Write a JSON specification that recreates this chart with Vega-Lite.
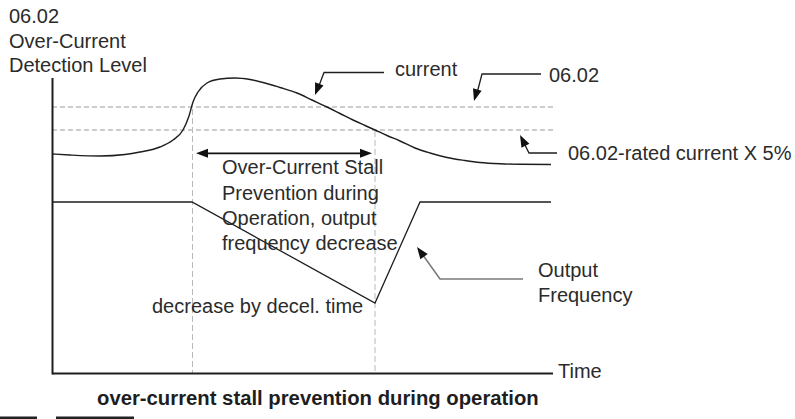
{
  "$schema": "https://vega.github.io/schema/vega-lite/v6.json",
  "width": 795,
  "height": 419,
  "autosize": {"type": "none"},
  "padding": 0,
  "background": "white",
  "config": {"view": {"stroke": null}},
  "datasets": {
    "lines": [
      {"kind": "hguide", "id": "h1", "i": 0, "x": 52, "y": 107},
      {"kind": "hguide", "id": "h1", "i": 1, "x": 553, "y": 107},
      {"kind": "hguide", "id": "h2", "i": 0, "x": 52, "y": 130},
      {"kind": "hguide", "id": "h2", "i": 1, "x": 553, "y": 130},
      {"kind": "vguide", "id": "v1", "i": 0, "x": 192.5, "y": 109},
      {"kind": "vguide", "id": "v1", "i": 1, "x": 192.5, "y": 373},
      {"kind": "vguide", "id": "v2", "i": 0, "x": 375, "y": 131},
      {"kind": "vguide", "id": "v2", "i": 1, "x": 375, "y": 373},
      {"kind": "axis", "id": "ay", "i": 0, "x": 52.5, "y": 78},
      {"kind": "axis", "id": "ay", "i": 1, "x": 52.5, "y": 374.5},
      {"kind": "axis", "id": "ax", "i": 0, "x": 52.5, "y": 373.5},
      {"kind": "axis", "id": "ax", "i": 1, "x": 553, "y": 373.5},
      {"kind": "curve", "id": "c", "i": 0, "x": 52.5, "y": 154},
      {"kind": "curve", "id": "c", "i": 1, "x": 70, "y": 155},
      {"kind": "curve", "id": "c", "i": 2, "x": 100, "y": 156},
      {"kind": "curve", "id": "c", "i": 3, "x": 125, "y": 154.5},
      {"kind": "curve", "id": "c", "i": 4, "x": 140, "y": 152},
      {"kind": "curve", "id": "c", "i": 5, "x": 160, "y": 147},
      {"kind": "curve", "id": "c", "i": 6, "x": 173, "y": 140},
      {"kind": "curve", "id": "c", "i": 7, "x": 183, "y": 130},
      {"kind": "curve", "id": "c", "i": 8, "x": 189, "y": 116},
      {"kind": "curve", "id": "c", "i": 9, "x": 193, "y": 102},
      {"kind": "curve", "id": "c", "i": 10, "x": 198, "y": 92},
      {"kind": "curve", "id": "c", "i": 11, "x": 207, "y": 83},
      {"kind": "curve", "id": "c", "i": 12, "x": 220, "y": 79},
      {"kind": "curve", "id": "c", "i": 13, "x": 235, "y": 78},
      {"kind": "curve", "id": "c", "i": 14, "x": 250, "y": 79.5},
      {"kind": "curve", "id": "c", "i": 15, "x": 265, "y": 83},
      {"kind": "curve", "id": "c", "i": 16, "x": 280, "y": 87.5},
      {"kind": "curve", "id": "c", "i": 17, "x": 297, "y": 93},
      {"kind": "curve", "id": "c", "i": 18, "x": 312, "y": 100},
      {"kind": "curve", "id": "c", "i": 19, "x": 327, "y": 107},
      {"kind": "curve", "id": "c", "i": 20, "x": 340, "y": 113.5},
      {"kind": "curve", "id": "c", "i": 21, "x": 353, "y": 120},
      {"kind": "curve", "id": "c", "i": 22, "x": 365, "y": 125.5},
      {"kind": "curve", "id": "c", "i": 23, "x": 375, "y": 130},
      {"kind": "curve", "id": "c", "i": 24, "x": 387, "y": 135.5},
      {"kind": "curve", "id": "c", "i": 25, "x": 400, "y": 141},
      {"kind": "curve", "id": "c", "i": 26, "x": 415, "y": 148},
      {"kind": "curve", "id": "c", "i": 27, "x": 430, "y": 153},
      {"kind": "curve", "id": "c", "i": 28, "x": 447, "y": 157.5},
      {"kind": "curve", "id": "c", "i": 29, "x": 465, "y": 160.5},
      {"kind": "curve", "id": "c", "i": 30, "x": 480, "y": 162.5},
      {"kind": "curve", "id": "c", "i": 31, "x": 500, "y": 163.8},
      {"kind": "curve", "id": "c", "i": 32, "x": 520, "y": 164.3},
      {"kind": "curve", "id": "c", "i": 33, "x": 551, "y": 164.5},
      {"kind": "freq", "id": "f", "i": 0, "x": 52.5, "y": 202},
      {"kind": "freq", "id": "f", "i": 1, "x": 192, "y": 202},
      {"kind": "freq", "id": "f", "i": 2, "x": 375, "y": 303},
      {"kind": "freq", "id": "f", "i": 3, "x": 420, "y": 202},
      {"kind": "freq", "id": "f", "i": 4, "x": 551, "y": 202},
      {"kind": "pointer", "id": "p1", "i": 0, "x": 384, "y": 72.5},
      {"kind": "pointer", "id": "p1", "i": 1, "x": 324, "y": 72.5},
      {"kind": "pointer", "id": "p1", "i": 2, "x": 317, "y": 91},
      {"kind": "pointer", "id": "p2", "i": 0, "x": 541, "y": 74},
      {"kind": "pointer", "id": "p2", "i": 1, "x": 482, "y": 74},
      {"kind": "pointer", "id": "p2", "i": 2, "x": 476, "y": 97},
      {"kind": "pointer", "id": "p3", "i": 0, "x": 557, "y": 153},
      {"kind": "pointer", "id": "p3", "i": 1, "x": 529, "y": 153},
      {"kind": "pointer", "id": "p3", "i": 2, "x": 522, "y": 139},
      {"kind": "pointergray", "id": "p4", "i": 0, "x": 523, "y": 279},
      {"kind": "pointergray", "id": "p4", "i": 1, "x": 440, "y": 279},
      {"kind": "pointergray", "id": "p4", "i": 2, "x": 420, "y": 251},
      {"kind": "span", "id": "s", "i": 0, "x": 200, "y": 153.3},
      {"kind": "span", "id": "s", "i": 1, "x": 368, "y": 153.3},
      {"kind": "scrap", "id": "b1", "i": 0, "x": 0, "y": 418},
      {"kind": "scrap", "id": "b1", "i": 1, "x": 37, "y": 418},
      {"kind": "scrap", "id": "b2", "i": 0, "x": 56, "y": 418},
      {"kind": "scrap", "id": "b2", "i": 1, "x": 134, "y": 418}
    ],
    "heads": [
      {"id": "current", "x": 315, "y": 95, "dir": 201},
      {"id": "level", "x": 474, "y": 101, "dir": 196},
      {"id": "rated", "x": 520, "y": 135, "dir": 333},
      {"id": "output", "x": 417, "y": 247, "dir": 324},
      {"id": "spanL", "x": 196, "y": 153.3, "dir": 270},
      {"id": "spanR", "x": 372, "y": 153.3, "dir": 90}
    ],
    "labels": [
      {"style": "body", "text": "06.02", "x": 9, "y": 23},
      {"style": "body", "text": "Over-Current", "x": 9, "y": 48},
      {"style": "body", "text": "Detection Level", "x": 9, "y": 72},
      {"style": "body", "text": "current", "x": 395, "y": 76},
      {"style": "body", "text": "06.02", "x": 549, "y": 82},
      {"style": "body", "text": "06.02-rated current X 5%", "x": 568, "y": 160},
      {"style": "body", "text": "Over-Current Stall", "x": 222, "y": 174},
      {"style": "body", "text": "Prevention during", "x": 222, "y": 200},
      {"style": "body", "text": "Operation, output", "x": 222, "y": 225},
      {"style": "body", "text": "frequency decrease", "x": 222, "y": 250},
      {"style": "body", "text": "decrease by decel. time", "x": 152, "y": 313},
      {"style": "body", "text": "Output", "x": 538, "y": 277},
      {"style": "body", "text": "Frequency", "x": 538, "y": 302},
      {"style": "body", "text": "Time", "x": 558, "y": 378},
      {"style": "title", "text": "over-current stall prevention during operation", "x": 97, "y": 405}
    ]
  },
  "encoding": {
    "x": {"field": "x", "type": "quantitative", "scale": {"domain": [0, 795], "nice": false, "zero": false}, "axis": null},
    "y": {"field": "y", "type": "quantitative", "scale": {"domain": [0, 419], "nice": false, "zero": false, "reverse": true}, "axis": null}
  },
  "layer": [
    {
      "data": {"name": "lines"},
      "transform": [{"filter": "datum.kind === 'hguide'"}],
      "mark": {"type": "line", "color": "#9a9a9a", "strokeWidth": 1, "strokeDash": [5, 3]},
      "encoding": {"detail": {"field": "id"}, "order": {"field": "i"}}
    },
    {
      "data": {"name": "lines"},
      "transform": [{"filter": "datum.kind === 'vguide'"}],
      "mark": {"type": "line", "color": "#b8b8b8", "strokeWidth": 1, "strokeDash": [6, 3]},
      "encoding": {"detail": {"field": "id"}, "order": {"field": "i"}}
    },
    {
      "data": {"name": "lines"},
      "transform": [{"filter": "datum.kind === 'axis'"}],
      "mark": {"type": "line", "color": "#1e1e1e", "strokeWidth": 2},
      "encoding": {"detail": {"field": "id"}, "order": {"field": "i"}}
    },
    {
      "data": {"name": "lines"},
      "transform": [{"filter": "datum.kind === 'curve'"}],
      "mark": {"type": "line", "color": "#1e1e1e", "strokeWidth": 1.4, "interpolate": "monotone"},
      "encoding": {"order": {"field": "i"}}
    },
    {
      "data": {"name": "lines"},
      "transform": [{"filter": "datum.kind === 'freq'"}],
      "mark": {"type": "line", "color": "#1e1e1e", "strokeWidth": 1.3},
      "encoding": {"order": {"field": "i"}}
    },
    {
      "data": {"name": "lines"},
      "transform": [{"filter": "datum.kind === 'pointer'"}],
      "mark": {"type": "line", "color": "#1e1e1e", "strokeWidth": 1.3},
      "encoding": {"detail": {"field": "id"}, "order": {"field": "i"}}
    },
    {
      "data": {"name": "lines"},
      "transform": [{"filter": "datum.kind === 'pointergray'"}],
      "mark": {"type": "line", "color": "#7a7a7a", "strokeWidth": 1.6},
      "encoding": {"detail": {"field": "id"}, "order": {"field": "i"}}
    },
    {
      "data": {"name": "lines"},
      "transform": [{"filter": "datum.kind === 'span'"}],
      "mark": {"type": "line", "color": "#111111", "strokeWidth": 1.8},
      "encoding": {"order": {"field": "i"}}
    },
    {
      "data": {"name": "lines"},
      "transform": [{"filter": "datum.kind === 'scrap'"}],
      "mark": {"type": "line", "color": "#222222", "strokeWidth": 3},
      "encoding": {"detail": {"field": "id"}, "order": {"field": "i"}}
    },
    {
      "data": {"name": "heads"},
      "mark": {"type": "point", "shape": "M0,0L0.75,2L-0.75,2Z", "filled": true, "color": "#111111", "opacity": 1, "size": 144, "strokeWidth": 0},
      "encoding": {"angle": {"field": "dir", "type": "quantitative", "scale": null}}
    },
    {
      "data": {"name": "labels"},
      "transform": [{"filter": "datum.style === 'body'"}],
      "mark": {"type": "text", "align": "left", "baseline": "alphabetic", "font": "Liberation Sans", "fontSize": 20, "color": "#2b2b2b"},
      "encoding": {"text": {"field": "text"}}
    },
    {
      "data": {"name": "labels"},
      "transform": [{"filter": "datum.style === 'title'"}],
      "mark": {"type": "text", "align": "left", "baseline": "alphabetic", "font": "Liberation Sans", "fontWeight": "bold", "fontSize": 20.3, "color": "#1e1e1e"},
      "encoding": {"text": {"field": "text"}}
    }
  ]
}
